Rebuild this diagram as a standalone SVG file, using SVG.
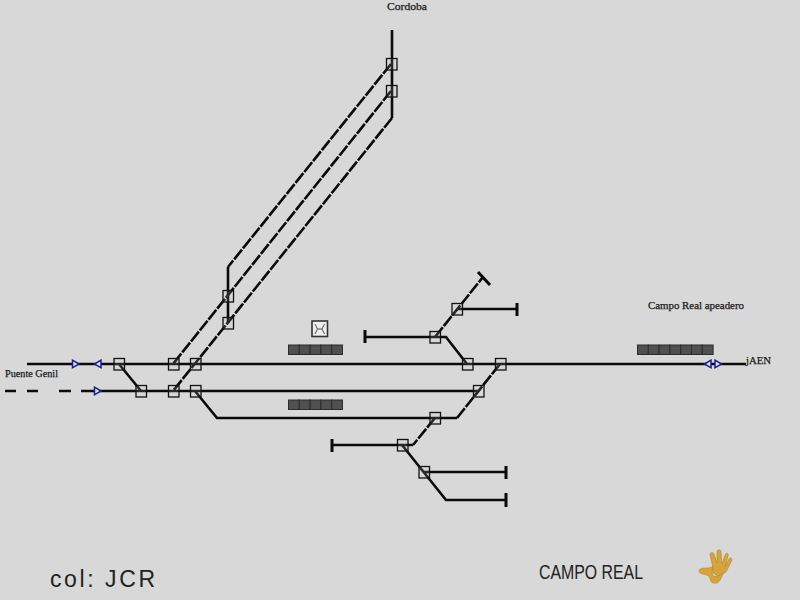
<svg xmlns="http://www.w3.org/2000/svg" width="800" height="600" viewBox="0 0 800 600">
<style>
.t{fill:none;stroke:#0a0a0a;stroke-width:2.600;stroke-linejoin:miter}
.d{stroke-dasharray:12.500 1.500}
.c{fill:none;stroke:#0a0a0a;stroke-width:3}
.b{fill:#d8d8d8;fill-opacity:.15;stroke:#111;stroke-width:1.300}
.s{fill:#dcdcf0;stroke:#1c1c8c;stroke-width:1.500}
.p{fill:#505050;stroke:#2c2c2c;stroke-width:1}
.l{font-family:"Liberation Serif",serif;font-size:10.500px;fill:#1a1a1a;stroke:#1a1a1a;stroke-width:.25}
</style>
<defs>
<g id="sw"><rect class="b" x="-5" y="-5.500" width="10.500" height="11.500"/></g>
<g id="cell"><rect class="p" x="0" y="0" width="10.800" height="9.500"/></g>
<polygon id="tr" class="s" points="-3,-3.800 3.500,0 -3,3.800"/>
<polygon id="tl" class="s" points="3,-3.800 -3.500,0 3,3.800"/>
</defs>
<rect width="800" height="600" fill="#d8d8d8"/>
<g id="connectors">
<path class="t" d="M27 364H746"/>
<path class="t" d="M5 391H16M27 391H38M59 391H71M81 391H478"/>
<path class="t" d="M392 30V118"/>
<path class="t" d="M119 364L141 391"/>
<path class="t d" d="M391 64L228 267"/>
<path class="t" d="M228 267V323"/>
<path class="t d" d="M391 91L173 364"/>
<path class="t d" d="M392 118L173 391"/>
<path class="t" d="M195 391L217 418H457"/>
<path class="t d" d="M457 418L500 364"/>
<path class="t" d="M365 337H446L467 364"/>
<path class="t d" d="M435 337L483 277"/>
<path class="t" d="M457 309H517"/>
<path class="t d" d="M435 418L413 445"/>
<path class="t" d="M413 445H332"/>
<path class="t" d="M402 445L446 500H506"/>
<path class="t" d="M424 472H506"/>
<path class="c" d="M365 330V343M517 303V316M332 439V452M506 466V479M506 493V507"/>
<path class="c" stroke-width="2" d="M478 272L490 285"/>
</g>
<g id="switches">
<use href="#sw" x="119" y="364"/>
<use href="#sw" x="141" y="391"/>
<use href="#sw" x="173.500" y="364"/>
<use href="#sw" x="173.500" y="391"/>
<use href="#sw" x="195.500" y="364"/>
<use href="#sw" x="195.500" y="391"/>
<use href="#sw" x="228" y="296"/>
<use href="#sw" x="228" y="323"/>
<use href="#sw" x="391.500" y="64"/>
<use href="#sw" x="391.500" y="91"/>
<use href="#sw" x="435" y="337"/>
<use href="#sw" x="457" y="309"/>
<use href="#sw" x="467.500" y="364"/>
<use href="#sw" x="500.500" y="364"/>
<use href="#sw" x="478.500" y="391"/>
<use href="#sw" x="435" y="418"/>
<use href="#sw" x="402.500" y="445"/>
<use href="#sw" x="424" y="472"/>
</g>
<g id="signals">
<use href="#tr" x="75.500" y="364"/>
<use href="#tl" x="98" y="364"/>
<use href="#tr" x="97.500" y="391"/>
<use href="#tl" x="708" y="364"/>
<use href="#tr" x="718" y="364"/>
</g>
<g id="platform-upper">
<use href="#cell" x="288.500" y="345"/><use href="#cell" x="299.300" y="345"/><use href="#cell" x="310.100" y="345"/><use href="#cell" x="320.900" y="345"/><use href="#cell" x="331.700" y="345"/>
</g>
<g id="platform-lower">
<use href="#cell" x="288.500" y="400"/><use href="#cell" x="299.300" y="400"/><use href="#cell" x="310.100" y="400"/><use href="#cell" x="320.900" y="400"/><use href="#cell" x="331.700" y="400"/>
</g>
<g id="platform-apeadero">
<use href="#cell" x="637.500" y="345"/><use href="#cell" x="648.300" y="345"/><use href="#cell" x="659.100" y="345"/><use href="#cell" x="669.900" y="345"/><use href="#cell" x="680.700" y="345"/><use href="#cell" x="691.500" y="345"/><use href="#cell" x="702.300" y="345"/>
</g>
<g id="building">
<rect x="312" y="321" width="15.500" height="15.500" fill="#ececec" stroke="#333" stroke-width="1.600"/>
<path d="M315 324L317.500 329L315 334M324.500 324L322 329L324.500 334M317.500 329H322" fill="none" stroke="#555" stroke-width="1"/>
</g>
<g id="labels">
<text class="l" x="387" y="9.500" textLength="40" lengthAdjust="spacingAndGlyphs">Cordoba</text>
<text class="l" x="5" y="377" textLength="53" lengthAdjust="spacingAndGlyphs">Puente Genil</text>
<text class="l" x="648" y="309" textLength="96" lengthAdjust="spacingAndGlyphs">Campo Real apeadero</text>
<text class="l" x="746" y="364" textLength="25" lengthAdjust="spacingAndGlyphs">jAEN</text>
<text x="50" y="587" font-family="Liberation Sans,sans-serif" font-size="23" fill="#222" textLength="105" lengthAdjust="spacing">col: JCR</text>
<text x="539" y="579" font-family="Liberation Sans,sans-serif" font-size="20" fill="#222" textLength="104" lengthAdjust="spacingAndGlyphs">CAMPO REAL</text>
</g>
<g id="hand" fill="#d9a437" stroke="#a8853a" stroke-width=".6">
<path d="M699 570C704 566 709 570 713 566L712 573C713 577 716 577 718 575L726 569L722 576C720 581 718 584 714 583C709 583 712 577 707 575C703 574 699 574 699 570Z"/>
<path d="M713 567L710 555C710 552 713 552 714 554L717 563L717 552C717 549 721 549 721 552L722 564L725 555C726 552 729 553 728 556L725 567L729 559C730 557 732 558 732 560L726 572L718 576L713 573Z"/>
</g>
</svg>
